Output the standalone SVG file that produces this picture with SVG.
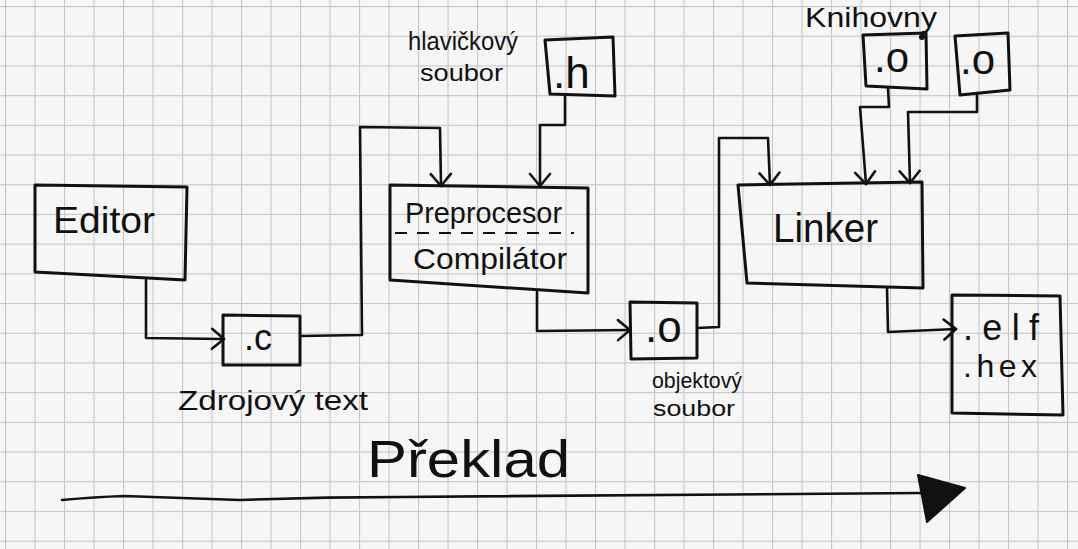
<svg xmlns="http://www.w3.org/2000/svg" width="1078" height="549" viewBox="0 0 1078 549">
<style>
.box{fill:none;stroke:#111;stroke-width:3;stroke-linejoin:round}
.conn{fill:none;stroke:#111;stroke-width:2.6;stroke-linejoin:round;stroke-linecap:round}
.t{font-family:"Liberation Sans","DejaVu Sans",sans-serif;fill:#111}
</style>
<defs>
<pattern id="grid" patternUnits="userSpaceOnUse" x="5" y="6" width="29.5" height="29.7">
<rect x="0" y="0" width="1.1" height="29.7" fill="#c6c6c6"/>
<rect x="0" y="0" width="29.5" height="1.1" fill="#c6c6c6"/>
</pattern>
<marker id="open" markerUnits="userSpaceOnUse" markerWidth="20" markerHeight="24" refX="14" refY="12" orient="auto" viewBox="0 0 20 24">
<path d="M2,2 L14,12 L2,22" fill="none" stroke="#111" stroke-width="2.6" stroke-linecap="round" stroke-linejoin="round"/>
</marker>
</defs>
<rect width="1078" height="549" fill="#f6f6f6"/>
<rect width="1078" height="549" fill="url(#grid)"/>

<g id="connectors">
<path class="conn" marker-end="url(#open)" d="M146,280 L146,338 L224,339"/>
<path class="conn" marker-end="url(#open)" d="M300,336 L362,335 L360,127 L440,128 L441,186"/>
<path class="conn" marker-end="url(#open)" d="M565,95 L565,125 L540,125 L540,186"/>
<path class="conn" marker-end="url(#open)" d="M537,292 L537,331 L630,330"/>
<path class="conn" marker-end="url(#open)" d="M697,328 L719,327 L719,138 L768,138 L770,185"/>
<path class="conn" marker-end="url(#open)" d="M888,88 L889,107 L860,107 L866,184"/>
<path class="conn" marker-end="url(#open)" d="M977,93 L977,112 L908,112 L910,183"/>
<path class="conn" marker-end="url(#open)" d="M887,288 L888,332 L956,329"/>
<path class="conn" d="M62,500 Q95,497 124,496 Q180,498 240,500 Q320,497 400,497 Q660,496 922,493"/>
<polygon points="918,475 965,488 927,522" fill="#111" stroke="#111" stroke-width="2" stroke-linejoin="round"/>
</g>

<g id="editor">
<polygon class="box" points="35,185 187,187 185,280 35,272"/>
<text class="t" x="53" y="233" font-size="37" textLength="102" lengthAdjust="spacingAndGlyphs">Editor</text>
</g>

<g id="c-file">
<polygon class="box" points="223,315 300,316 300,365 223,365"/>
<text class="t" x="244" y="350" font-size="36">.c</text>
</g>
<g id="c-label">
<text class="t" x="178" y="410" font-size="27" textLength="190" lengthAdjust="spacingAndGlyphs">Zdrojový text</text>
</g>

<g id="h-file">
<polygon class="box" points="545,40 613,37 615,96 550,94"/>
<text class="t" x="553" y="88" font-size="44">.h</text>
</g>
<g id="h-label">
<text class="t" x="408" y="50" font-size="26" textLength="110" lengthAdjust="spacingAndGlyphs">hlavičkový</text>
<text class="t" x="420" y="81" font-size="24" textLength="83" lengthAdjust="spacingAndGlyphs">soubor</text>
</g>

<g id="compiler">
<polygon class="box" points="390,185 588,188 588,293 390,280"/>
<line x1="395" y1="233" x2="574" y2="233" stroke="#111" stroke-width="2" stroke-dasharray="12,10"/>
<text class="t" x="405" y="223" font-size="29" textLength="157" lengthAdjust="spacingAndGlyphs">Preprocesor</text>
<text class="t" x="413" y="269" font-size="30" textLength="154" lengthAdjust="spacingAndGlyphs">Compilátor</text>
</g>

<g id="o-file">
<polygon class="box" points="630,302 697,303 697,358 631,359"/>
<text class="t" x="645" y="342" font-size="44">.o</text>
</g>
<g id="o-label">
<text class="t" x="652" y="388" font-size="22" textLength="90" lengthAdjust="spacingAndGlyphs">objektový</text>
<text class="t" x="653" y="416" font-size="22" textLength="82" lengthAdjust="spacingAndGlyphs">soubor</text>
</g>

<g id="linker">
<polygon class="box" points="738,185 922,182 923,288 747,283"/>
<text class="t" x="773" y="242" font-size="40" textLength="105" lengthAdjust="spacingAndGlyphs">Linker</text>
</g>

<g id="lib-label">
<text class="t" x="805" y="27" font-size="28" textLength="132" lengthAdjust="spacingAndGlyphs">Knihovny</text>
<circle cx="922" cy="37" r="3" fill="#111"/>
</g>
<g id="lib1">
<polygon class="box" points="863,35 926,33 927,89 866,86"/>
<text class="t" x="874" y="72" font-size="42">.o</text>
</g>
<g id="lib2">
<polygon class="box" points="955,36 1008,33 1010,90 960,95"/>
<text class="t" x="960" y="74" font-size="42">.o</text>
</g>

<g id="output">
<polygon class="box" points="952,295 1060,296 1063,415 952,413"/>
<text class="t" x="963" y="340" font-size="36" textLength="76" lengthAdjust="spacing">.elf</text>
<text class="t" x="963" y="377" font-size="32" textLength="74" lengthAdjust="spacing">.hex</text>
</g>

<g id="title">
<text class="t" x="367" y="477" font-size="52" textLength="203" lengthAdjust="spacingAndGlyphs">Překlad</text>
</g>
</svg>
